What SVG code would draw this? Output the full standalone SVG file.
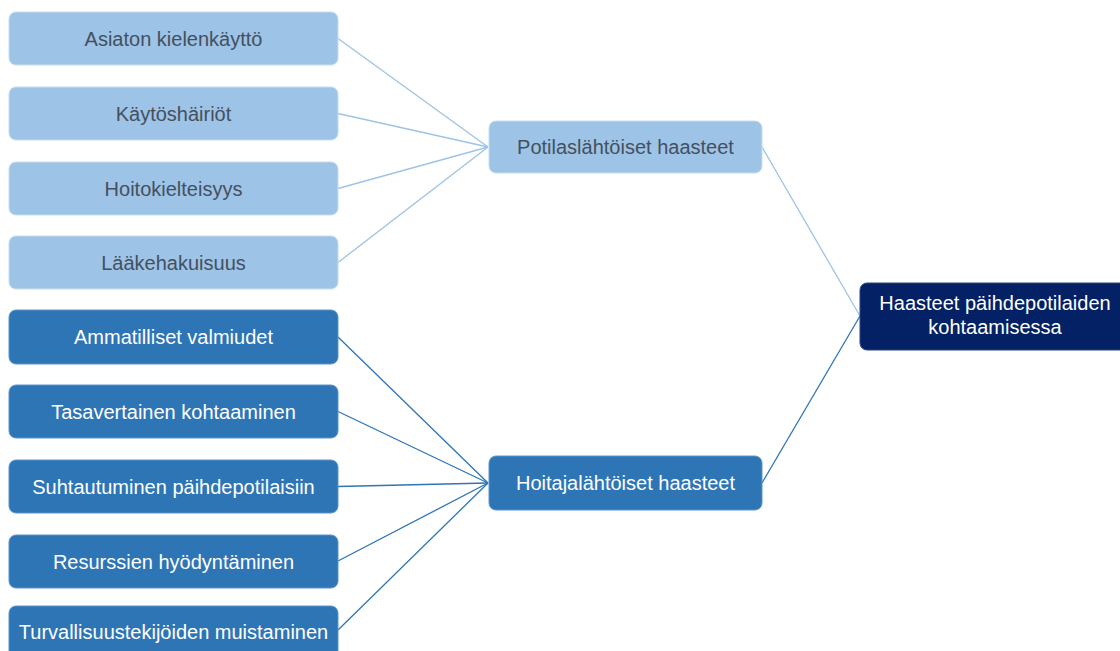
<svg xmlns="http://www.w3.org/2000/svg" width="1120" height="651" viewBox="0 0 1120 651">
<style>
.light rect{fill:#9dc3e6;stroke:#c5dcf0;stroke-width:1}
.dark rect{fill:#2e75b6;stroke:#5b95cc;stroke-width:1}
.root rect{fill:#032164;stroke:#2a4580;stroke-width:1}
text{font-family:"Liberation Sans",Arial,sans-serif;font-size:20px;text-anchor:middle}
.light text{fill:#44505f}
.dark text,.root text{fill:#ffffff}
.cl{stroke:#9dc3e6;stroke-width:1.3;fill:none}
.cd{stroke:#2e75b6;stroke-width:1.3;fill:none}
</style>
<rect width="1120" height="651" fill="#ffffff"/>
<g id="connectors">
<line class="cl" x1="338" y1="38.5" x2="488" y2="147"/>
<line class="cl" x1="338" y1="113.5" x2="488" y2="147"/>
<line class="cl" x1="338" y1="188.5" x2="488" y2="147"/>
<line class="cl" x1="338" y1="262.5" x2="488" y2="147"/>
<line class="cd" x1="338" y1="337" x2="488" y2="483"/>
<line class="cd" x1="338" y1="411.5" x2="488" y2="483"/>
<line class="cd" x1="338" y1="486.5" x2="488" y2="483"/>
<line class="cd" x1="338" y1="561" x2="488" y2="483"/>
<line class="cd" x1="338" y1="630" x2="488" y2="483"/>
<line class="cl" x1="762" y1="147" x2="860" y2="316"/>
<line class="cd" x1="762" y1="483" x2="860" y2="316"/>
</g>
<g id="n1" class="light"><rect x="9" y="12" width="329" height="53" rx="7"/><text x="173.5" y="45.5">Asiaton kielenkäyttö</text></g>
<g id="n2" class="light"><rect x="9" y="87" width="329" height="53" rx="7"/><text x="173.5" y="120.5">Käytöshäiriöt</text></g>
<g id="n3" class="light"><rect x="9" y="162" width="329" height="53" rx="7"/><text x="173.5" y="195.5">Hoitokielteisyys</text></g>
<g id="n4" class="light"><rect x="9" y="236" width="329" height="53" rx="7"/><text x="173.5" y="269.5">Lääkehakuisuus</text></g>
<g id="n5" class="dark"><rect x="9" y="310" width="329" height="54" rx="7"/><text x="173.5" y="344">Ammatilliset valmiudet</text></g>
<g id="n6" class="dark"><rect x="9" y="385" width="329" height="53" rx="7"/><text x="173.5" y="418.5">Tasavertainen kohtaaminen</text></g>
<g id="n7" class="dark"><rect x="9" y="460" width="329" height="53" rx="7"/><text x="173.5" y="493.5">Suhtautuminen päihdepotilaisiin</text></g>
<g id="n8" class="dark"><rect x="9" y="535" width="329" height="53" rx="7"/><text x="173.5" y="568.5">Resurssien hyödyntäminen</text></g>
<g id="n9" class="dark"><rect x="9" y="606" width="329" height="54" rx="7"/><text x="173.5" y="638.5">Turvallisuustekijöiden muistaminen</text></g>
<g id="m1" class="light"><rect x="489" y="121" width="273" height="52" rx="7"/><text x="625.5" y="154">Potilaslähtöiset haasteet</text></g>
<g id="m2" class="dark"><rect x="489" y="456" width="273" height="54" rx="7"/><text x="625.5" y="490">Hoitajalähtöiset haasteet</text></g>
<g id="root" class="root"><rect x="860" y="283" width="275" height="67" rx="7"/><text x="995" y="310">Haasteet päihdepotilaiden</text><text x="995" y="334">kohtaamisessa</text></g>
</svg>
